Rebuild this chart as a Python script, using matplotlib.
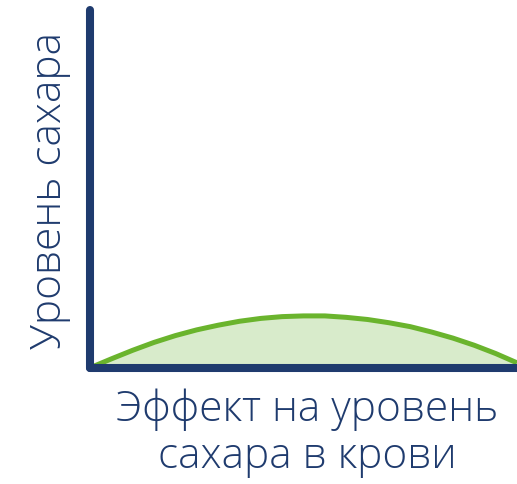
import numpy as np
import matplotlib
matplotlib.use("Agg")
from matplotlib import pyplot as plt

plt.rcParams['font.family'] = ['Open Sans', 'DejaVu Sans']

# effect values (x in 0..100, y in 0..100)
effect_x = [0, 5, 10, 15, 20, 25, 30, 35, 40, 45, 50,
            55, 60, 65, 70, 75, 80, 85, 90, 95, 100]
sugar_level = [0, 2.5, 4.9, 7.1, 9.0, 10.6, 11.9, 13.0, 13.8, 14.3, 14.5,
               14.5, 14.1, 13.5, 12.6, 11.5, 10.0, 8.3, 6.3, 4.0, 1.4]

ylabel = 'Уровень сахара'
xlabel = 'Эффект на уровень\nсахара в крови'

navy = '#1f3b6e'
green = '#6ab42d'
fill_green = '#d8ebcb'

fig = plt.figure(figsize=(5.17, 4.84), dpi=100)
ax = fig.add_axes([0.174, 0.24, 0.826, 0.74])

ax.fill_between(effect_x, sugar_level, 0, color=fill_green, lw=0)
ax.plot(effect_x, sugar_level, color=green, lw=3.6, solid_capstyle='butt')

ax.set_xlim(0, 100)
ax.set_ylim(0, 100)
ax.set_xticks([])
ax.set_yticks([])
for side in ['top', 'right']:
    ax.spines[side].set_visible(False)
for side in ['left', 'bottom']:
    ax.spines[side].set_color(navy)
    ax.spines[side].set_linewidth(5.8)
    ax.spines[side].set_capstyle('round')
    ax.spines[side].set_zorder(3)

fig.text(0.097, 0.607, ylabel, rotation=90, ha='center', va='center',
         fontsize=30.5, color=navy, fontweight='light')
fig.text(0.594, 0.105, xlabel, ha='center', va='center',
         fontsize=30.5, color=navy, fontweight='light', linespacing=1.12)

plt.savefig('out.png', dpi=100)
